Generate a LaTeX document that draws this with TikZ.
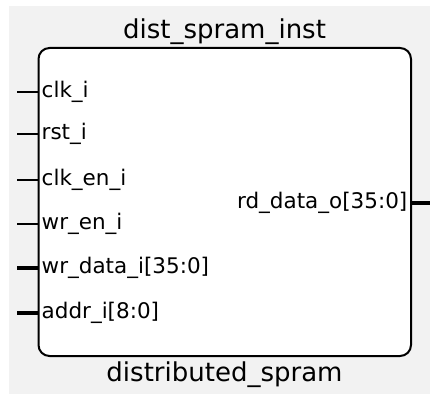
\documentclass[tikz,border=0pt]{standalone}
\usepackage{fontspec}
\setmainfont{DejaVu Sans}
\usepackage{tikz}
\definecolor{bggray}{RGB}{242,242,242}
\tikzset{
  pinlabel/.style={inner sep=2.5pt, font=\fontsize{21.5}{24}\selectfont},
  celllabel/.style={inner sep=0pt, font=\fontsize{26}{30}\selectfont},
  wire/.style={line width=1.5pt},
  bus/.style={line width=4.5pt}
}

\begin{document}
\begin{tikzpicture}[x=1pt,y=-1pt]
\useasboundingbox (0,0) rectangle (430,395);
\fill[bggray] (9,6) rectangle (430,394);
\draw[line width=2pt, rounded corners=11pt, fill=white] (38.5,48) rectangle (411,356);
\node[celllabel] (inst) at (224.5,32) {dist\_spram\_inst};
\node[celllabel] (cell) at (224.5,375) {distributed\_spram};
% inputs
\node[pinlabel, anchor=west] (clk) at (39,92) {clk\_i};
\node[pinlabel, anchor=west] (rst) at (39,134) {rst\_i};
\node[pinlabel, anchor=west] (clken) at (39,180) {clk\_en\_i};
\node[pinlabel, anchor=west] (wren) at (39,224) {wr\_en\_i};
\node[pinlabel, anchor=west] (wrdata) at (39,268) {wr\_data\_i[35:0]};
\node[pinlabel, anchor=west] (addr) at (39,313) {addr\_i[8:0]};
\coordinate (clkin) at (17,92);
\coordinate (rstin) at (17,134);
\coordinate (clkenin) at (17,180);
\coordinate (wrenin) at (17,224);
\coordinate (wrdatain) at (17,268);
\coordinate (addrin) at (17,313);
\draw[wire] (clkin) -- (clk.west);
\draw[wire] (rstin) -- (rst.west);
\draw[wire] (clkenin) -- (clken.west);
\draw[wire] (wrenin) -- (wren.west);
\draw[bus] (wrdatain) -- (wrdata.west);
\draw[bus] (addrin) -- (addr.west);
% output
\node[pinlabel, anchor=east] (rddata) at (410,203) {rd\_data\_o[35:0]};
\coordinate (rddataout) at (430,203);
\draw[bus] (rddata.east) -- (rddataout);
\end{tikzpicture}
\end{document}
